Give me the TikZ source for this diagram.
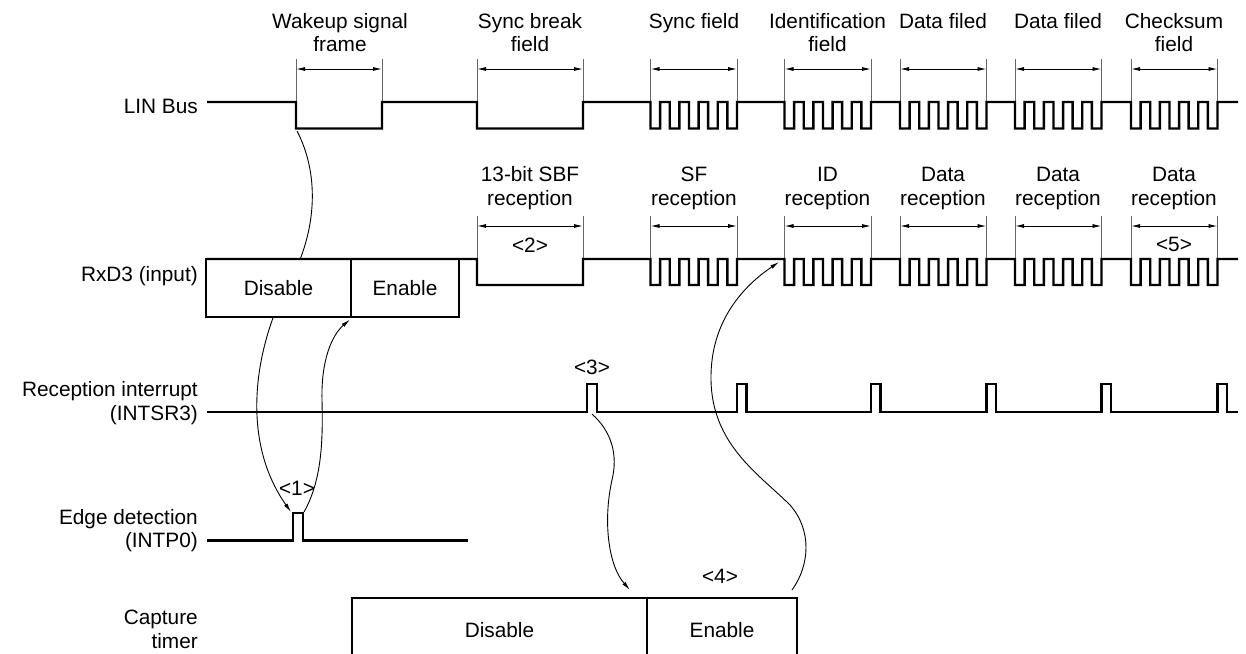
\documentclass[tikz,border=0pt]{standalone}
\usepackage{fontspec}
\setmainfont{Liberation Sans}
\usetikzlibrary{arrows.meta}
\newcommand{\DimMark}[4]{%
  \coordinate (#1-tl) at (#2,#4-43);
  \coordinate (#1-bl) at (#2,#4);
  \coordinate (#1-tr) at (#3,#4-43);
  \coordinate (#1-br) at (#3,#4);
  \coordinate (#1-al) at (#2,#4-33);
  \coordinate (#1-ar) at (#3,#4-33);
  \draw[tickline] (#1-tl) -- (#1-bl);
  \draw[tickline] (#1-tr) -- (#1-br);
  \draw[dimarrow] (#1-al) -- (#1-ar);
}
\begin{document}
\begin{tikzpicture}[x=1pt,y=-1pt,
  every node/.style={font=\fontsize{20.8}{23.5}\selectfont, inner sep=0pt},
  sig/.style={line width=2.4pt, line join=miter},
  tickline/.style={line width=0.8pt, black!60},
  dimarrow/.style={line width=0.9pt, {Latex[length=9pt,width=4pt]}-{Latex[length=9pt,width=4pt]}},
  flow/.style={line width=0.9pt, -{Latex[length=9pt,width=4pt]}},
  lbl/.style={anchor=base},
  rowlbl/.style={anchor=base east},
  cell/.style={draw, line width=2.4pt, fill=white, inner sep=0pt, outer sep=0pt}
]
\clip (0,0) rectangle (1246,653);
\fill[white] (0,0) rectangle (1246,653);

% row labels
\node[rowlbl] (l-lin) at (198,113) {LIN Bus};
\node[rowlbl] (l-rxd) at (198,281) {RxD3 (input)};
\node[rowlbl] (l-int1) at (198,396.5) {Reception interrupt};
\node[rowlbl] (l-int2) at (198,420) {(INTSR3)};
\node[rowlbl] (l-edge1) at (198,524) {Edge detection};
\node[rowlbl] (l-edge2) at (198,547.5) {(INTP0)};
\node[rowlbl] (l-cap1) at (198,624.5) {Capture};
\node[rowlbl] (l-cap2) at (198,648) {timer};

% field titles (LIN Bus)
\node[lbl] (t-wk1) at (340,28) {Wakeup signal};
\node[lbl] (t-wk2) at (340,51.5) {frame};
\node[lbl] (t-sb1) at (530,28) {Sync break};
\node[lbl] (t-sb2) at (530,51.5) {field};
\node[lbl] (t-sy) at (694,28) {Sync field};
\node[lbl] (t-id1) at (827.5,28) {Identification};
\node[lbl] (t-id2) at (827.5,51.5) {field};
\node[lbl] (t-d1) at (943,28) {Data filed};
\node[lbl] (t-d2) at (1058,28) {Data filed};
\node[lbl] (t-cs1) at (1174,28) {Checksum};
\node[lbl] (t-cs2) at (1174,51.5) {field};

% field titles (RxD3)
\node[lbl] (r-sb1) at (530,181.5) {13-bit SBF};
\node[lbl] (r-sb2) at (530,205) {reception};
\node[lbl] (r-sy1) at (694,181.5) {SF};
\node[lbl] (r-sy2) at (694,205) {reception};
\node[lbl] (r-id1) at (827.5,181.5) {ID};
\node[lbl] (r-id2) at (827.5,205) {reception};
\node[lbl] (r-d11) at (943,181.5) {Data};
\node[lbl] (r-d12) at (943,205) {reception};
\node[lbl] (r-d21) at (1058,181.5) {Data};
\node[lbl] (r-d22) at (1058,205) {reception};
\node[lbl] (r-d31) at (1174,181.5) {Data};
\node[lbl] (r-d32) at (1174,205) {reception};

% step numbers
\node[lbl] (n1) at (297,495) {<1>};
\node[lbl] (n2) at (530,252) {<2>};
\node[lbl] (n3) at (592,374) {<3>};
\node[lbl] (n4) at (720,583.5) {<4>};
\node[lbl] (n5) at (1174,251) {<5>};

% dimension marks
\DimMark{wk}{296}{382}{102}
\DimMark{sb}{477}{583}{102}
\DimMark{sy}{650.5}{737}{102}
\DimMark{id}{784.5}{871}{102}
\DimMark{da}{900}{986.5}{102}
\DimMark{db}{1015}{1101.5}{102}
\DimMark{cs}{1131}{1217.5}{102}
\DimMark{rsb}{477}{583}{259}
\DimMark{rsy}{650.5}{737}{259}
\DimMark{rid}{784.5}{871}{259}
\DimMark{rda}{900}{986.5}{259}
\DimMark{rdb}{1015}{1101.5}{259}
\DimMark{rcs}{1131}{1217.5}{259}

% flow curves
\coordinate (wA) at (297,131);
\coordinate (pA) at (291,512);
\coordinate (pB) at (304,512);
\coordinate (eB) at (350,319.5);
\coordinate (i3) at (592,414);
\coordinate (c3) at (630,590);
\coordinate (c4) at (792,590);
\coordinate (r4) at (779,262);
\draw[flow] (wA) .. controls (320,175) and (318,235) .. (285,290)
  .. controls (255,350) and (240,440) .. (pA);
\draw[flow] (pB) .. controls (322,480) and (323,440) .. (322,400)
  .. controls (321,360) and (332,335) .. (eB);
\draw[flow] (i3) .. controls (612,432) and (618,455) .. (612,480)
  .. controls (603,520) and (608,565) .. (c3);
\draw[flow] (c4) .. controls (810,565) and (812,530) .. (790,505)
  .. controls (760,475) and (712,445) .. (711,380)
  .. controls (710,320) and (745,285) .. (r4);

% RxD3 and capture timer state boxes
\node[cell, minimum width=145pt, minimum height=58pt] (dis) at (278.5,288) {Disable};
\node[cell, minimum width=108pt, minimum height=58pt] (en) at (405,288) {Enable};
\node[cell, minimum width=295pt, minimum height=64pt] (cdis) at (499.5,630) {Disable};
\node[cell, minimum width=150pt, minimum height=64pt] (cen) at (722,630) {Enable};

% LIN Bus
\draw[sig] (207,102) -- (296,102) -- (296,128.5) -- (382,128.5) -- (382,102)
  -- (477,102) -- (477,128.5) -- (583,128.5) -- (583,102)
  \foreach \s in {650.5,784.5,900,1015,1131}{ -- (\s,102)
    \foreach \k in {0,2,4,6,8}{ -- (\s+\k*9.611,128.5) -- (\s+\k*9.611+9.611,128.5)
      -- (\s+\k*9.611+9.611,102) -- (\s+\k*9.611+19.222,102) } }
  -- (1238,102);

% RxD3
\draw[sig] (dis.north west) -- (477,259) -- (477,285) -- (583,285) -- (583,259)
  \foreach \s in {650.5,784.5,900,1015,1131}{ -- (\s,259)
    \foreach \k in {0,2,4,6,8}{ -- (\s+\k*9.611,285) -- (\s+\k*9.611+9.611,285)
      -- (\s+\k*9.611+9.611,259) -- (\s+\k*9.611+19.222,259) } }
  -- (1238,259);

% Reception interrupt
\draw[sig] (207,412) -- (587,412) -- (587,384) -- (597,384) -- (597,412)
  \foreach \x in {737,871,986.5,1101.5,1217.5}{ -- (\x,412) -- (\x,384) -- (\x+9.6,384) -- (\x+9.6,412) }
  -- (1238,412);

% Edge detection
\draw[sig] (207,540.5) -- (293,540.5) -- (293,513) -- (303,513) -- (303,540.5) -- (468,540.5);
\end{tikzpicture}
\end{document}
